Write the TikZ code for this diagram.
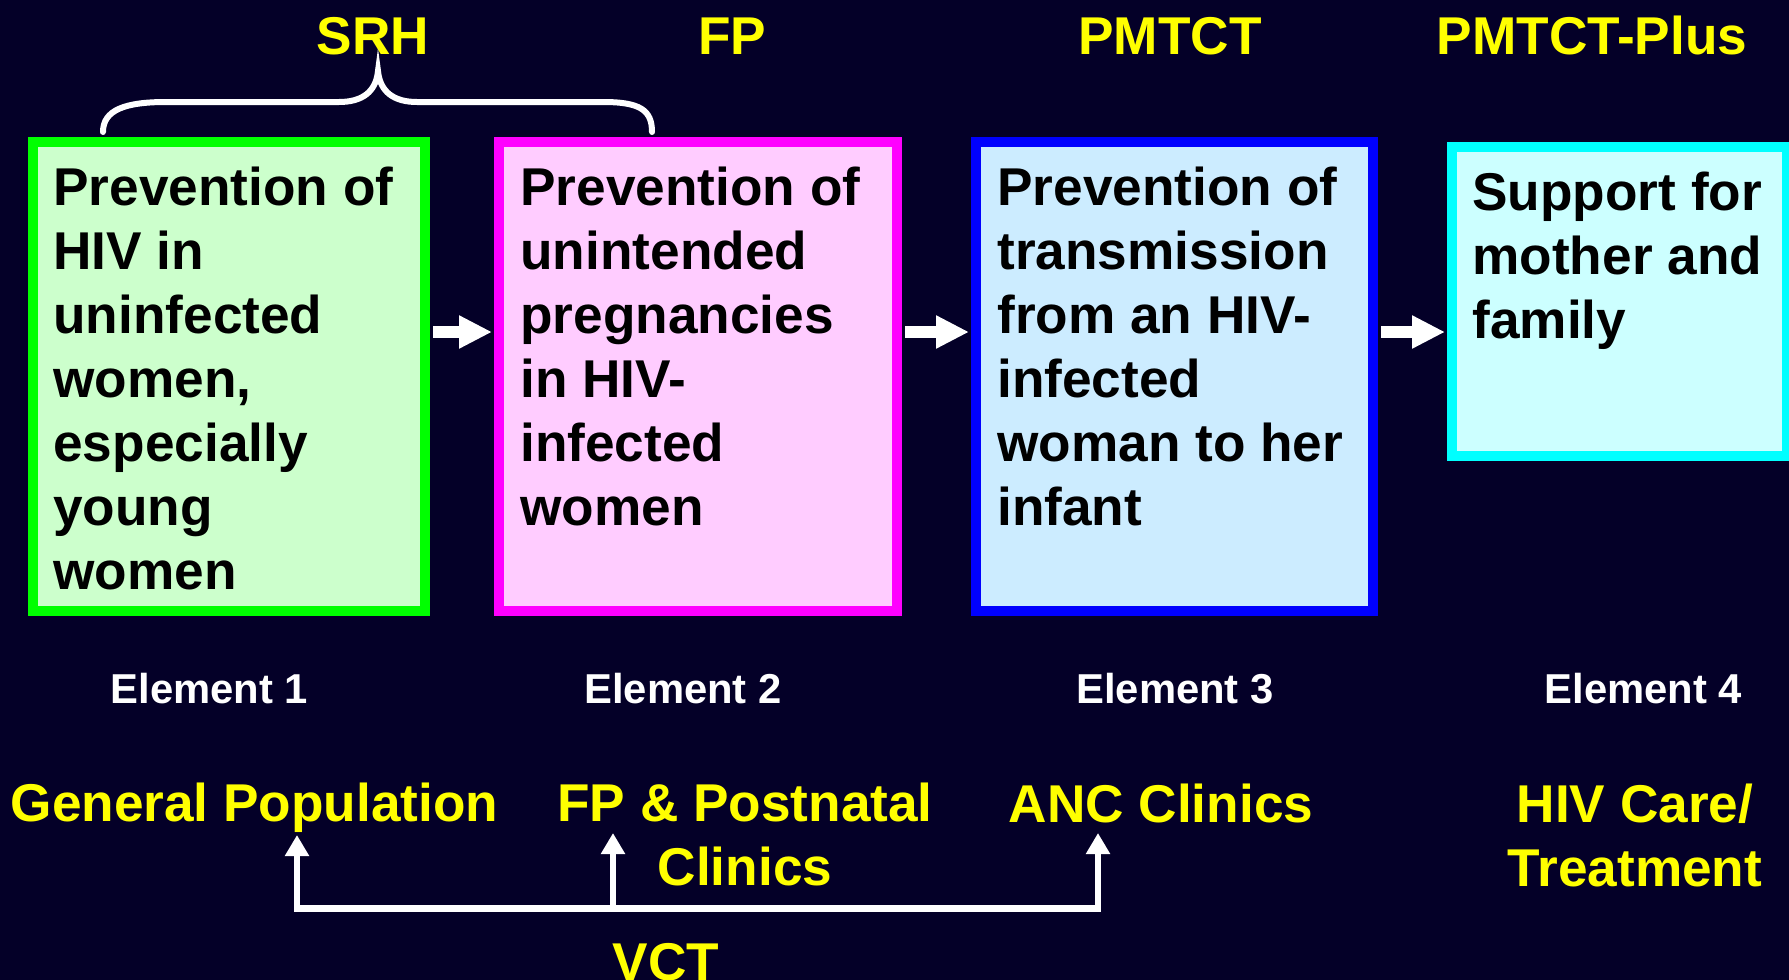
\documentclass[tikz,border=0pt]{standalone}
\usepackage{fontspec}
\setmainfont{Liberation Sans}
\usetikzlibrary{arrows.meta,calc}
\definecolor{bgc}{RGB}{4,0,40}
\definecolor{yel}{RGB}{255,255,0}
\definecolor{grnline}{RGB}{0,255,0}
\definecolor{grnfill}{RGB}{204,255,204}
\definecolor{magline}{RGB}{255,0,255}
\definecolor{magfill}{RGB}{255,204,255}
\definecolor{bluline}{RGB}{0,0,255}
\definecolor{blufill}{RGB}{204,236,255}
\definecolor{cyaline}{RGB}{0,255,255}
\definecolor{cyafill}{RGB}{204,255,255}
\begin{document}
\begin{tikzpicture}[x=0.5pt,y=-0.5pt,
  box/.style={rectangle, line width=5pt, inner sep=0pt},
  boxtext/.style={anchor=base west, align=left, inner sep=0pt, text=black,
    font=\bfseries\fontsize{26.6pt}{32pt}\selectfont},
  head/.style={anchor=base, inner sep=0pt, text=yel,
    font=\bfseries\fontsize{26.6pt}{32pt}\selectfont},
  elem/.style={anchor=base, inner sep=0pt, text=white,
    font=\bfseries\fontsize{20.9pt}{24pt}\selectfont},
  place/.style={anchor=base, align=center, inner sep=0pt, text=yel,
    font=\bfseries\fontsize{26.6pt}{32pt}\selectfont},
  blockarrow/.style={draw=white, line width=6pt, shorten <=1.5pt, shorten >=1pt,
    -{Triangle[length=16.5pt,width=15.5pt]}},
  vcttip/.style={draw=white, line width=3.25pt,
    -{Triangle[length=10.5pt,width=11.5pt]}},
  vctboth/.style={draw=white, line width=3.25pt,
    {Triangle[length=10.5pt,width=11.5pt]}-{Triangle[length=10.5pt,width=11.5pt]}},
  bracestyle/.style={draw=white, line width=3pt, line cap=round},
]
\fill[bgc] (0,0) rectangle (1789,980);
\useasboundingbox (0,0) rectangle (1789,980);

% top headings
\node[head] (srh) at (373,54) {SRH};
\node[head] (fp) at (732,54) {FP};
\node[head] (pmtct) at (1170,54) {PMTCT};
\node[head] (plus) at (1592,54) {PMTCT-Plus};

% brace
\draw[bracestyle] (103,132) .. controls (103,110) and (125,102) .. (166,102)
  -- (339,102) .. controls (362,102) and (376,92) .. (378,71)
  .. controls (380,92) and (394,102) .. (417,102)
  -- (603,102) .. controls (640,102) and (652,110) .. (652,132);

% boxes
\node[box, draw=grnline, fill=grnfill, minimum width=196pt, minimum height=234.5pt] (b1) at (229,376.5) {};
\node[box, draw=magline, fill=magfill, minimum width=199pt, minimum height=234.5pt] (b2) at (698,376.5) {};
\node[box, draw=bluline, fill=blufill, minimum width=198.5pt, minimum height=234.5pt] (b3) at (1174.5,376.5) {};
\node[box, draw=cyaline, fill=cyafill, minimum width=167.5pt, minimum height=154.5pt] (b4) at (1619.5,301.5) {};

% box texts (base anchor = baseline of the last line)
\node[boxtext] (t1) at ($(b1.north west)+(25,452)$) {Prevention of\\HIV in\\uninfected\\women,\\especially\\young\\women};
\node[boxtext] (t2) at ($(b2.north west)+(26,388)$) {Prevention of\\unintended\\pregnancies\\in HIV-\\infected\\women};
\node[boxtext] (t3) at ($(b3.north west)+(26,388)$) {Prevention of\\transmission\\from an HIV-\\infected\\woman to her\\infant};
\node[boxtext] (t4) at ($(b4.north west)+(25,196)$) {Support for\\mother and\\family};

% arrows between boxes
\coordinate (ay) at (0,332);
\draw[blockarrow] (b1.east |- ay) -- (b2.west |- ay);
\draw[blockarrow] (b2.east |- ay) -- (b3.west |- ay);
\draw[blockarrow] (b3.east |- ay) -- (b4.west |- ay);

% element labels
\node[elem] (e1) at (209.5,703) {Element 1};
\node[elem] (e2) at (683,703) {Element 2};
\node[elem] (e3) at (1175,703) {Element 3};
\node[elem] (e4) at (1643.5,703) {Element 4};

% settings
\node[place] (gp) at (254.5,821) {General Population};
\node[place] (fpp) at (745,885) {FP \& Postnatal\\Clinics};
\node[place] (anc) at (1161,822) {ANC Clinics};
\node[place] (hiv) at (1635,886) {HIV Care/\\Treatment};
\node[place] (vct) at (666,980) {VCT};

% VCT connectors
\coordinate (j1) at (297,908.5);
\coordinate (j2) at (613,908.5);
\coordinate (j3) at (1098,908.5);
\draw[vctboth] ($(j1 |- gp.base)+(0,14)$) -- (j1) -- (j3) -- ($(j3 |- anc.base)+(0,11)$);
\draw[vcttip] (j2) -- ($(j2 |- gp.base)+(0,12)$);
\end{tikzpicture}
\end{document}
